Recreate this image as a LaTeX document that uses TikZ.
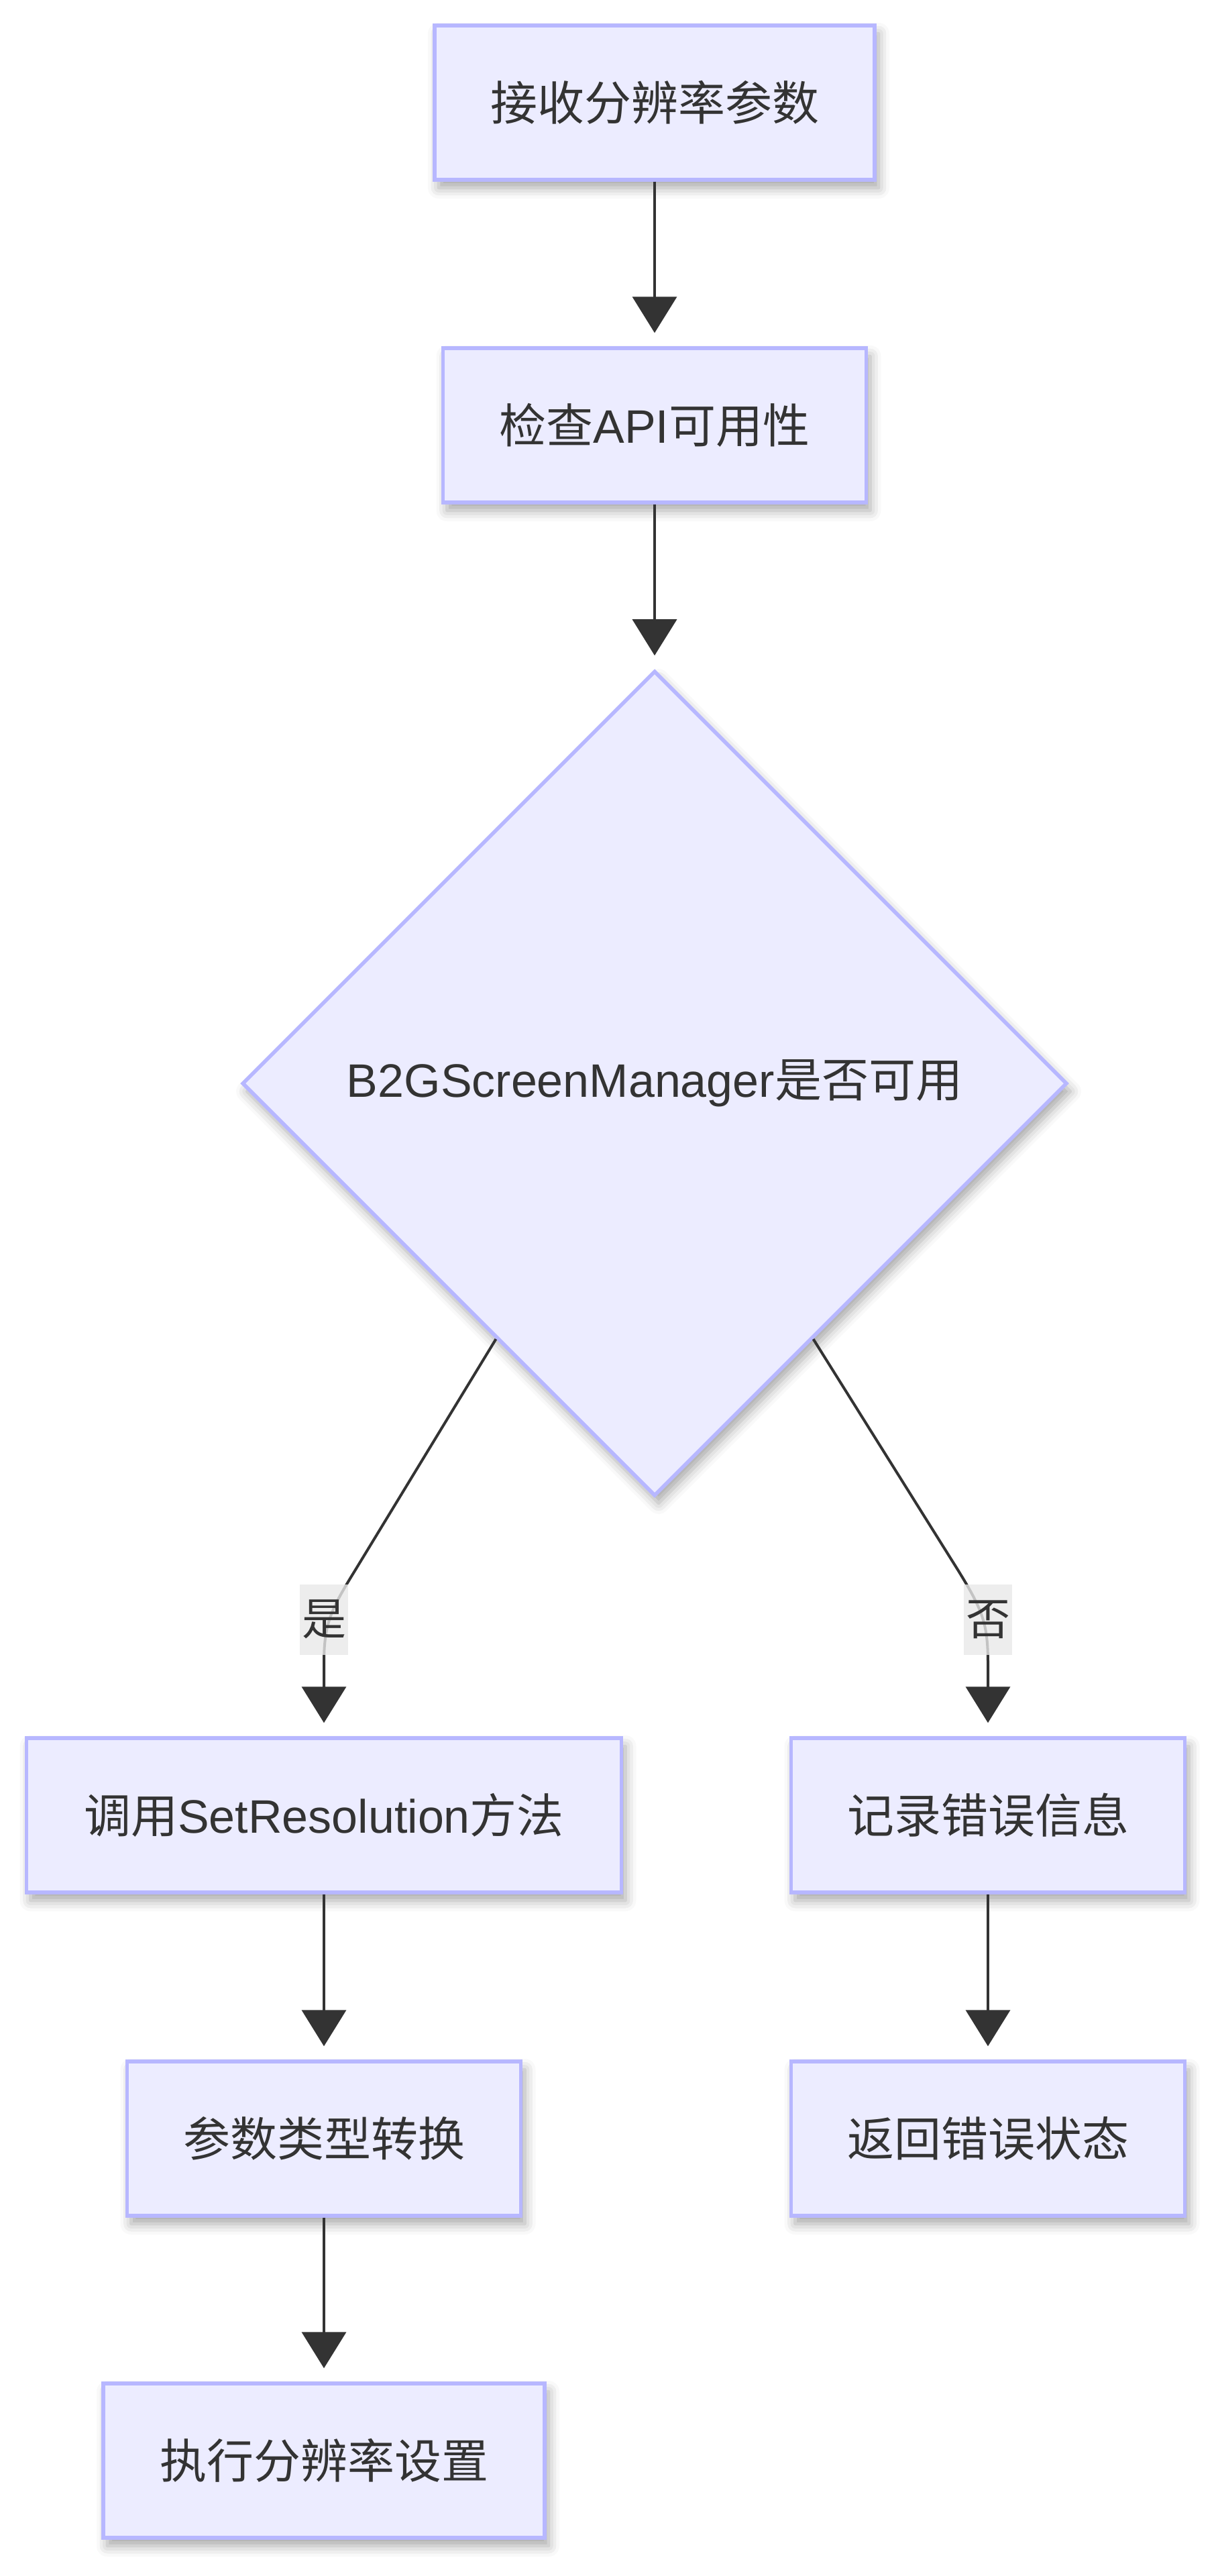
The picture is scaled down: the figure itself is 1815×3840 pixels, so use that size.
\documentclass[tikz,border=0pt]{standalone}
\usepackage{fontspec}
\setmainfont{Liberation Sans}
\newfontfamily\cjk{Noto Sans CJK SC}
\usetikzlibrary{shapes.geometric,arrows.meta,shadows.blur,calc}
\definecolor{nodefill}{HTML}{ECECFF}
\definecolor{nodeborder}{HTML}{B7B7FF}
\definecolor{edgecol}{HTML}{333333}
\definecolor{labelbg}{HTML}{E8E8E8}
\begin{document}
\begin{tikzpicture}[x=1pt,y=-1pt,
  shade/.style={blur shadow={shadow xshift=6pt, shadow yshift=-12pt, shadow blur radius=16pt, shadow opacity=35}},
  box/.style={draw=nodeborder, fill=nodefill, line width=5.5pt, minimum height=230pt, inner sep=0pt,
    text=edgecol, font=\fontsize{70}{84}\selectfont, shade},
  decision/.style={shape=diamond, aspect=1, draw=nodeborder, fill=nodefill, line width=5.5pt,
    minimum width=1230pt, minimum height=1230pt, inner sep=0pt, text=edgecol,
    font=\fontsize{70}{84}\selectfont, shade},
  edge/.style={draw=edgecol, line width=4pt, -{Triangle[length=54pt,width=66pt]}, shorten >=20pt},
  elabel/.style={fill=labelbg, fill opacity=0.8, text opacity=1, text=edgecol, inner xsep=3pt, inner ysep=0pt,
    minimum height=105pt, font=\fontsize{66}{80}\selectfont\cjk}
]
\useasboundingbox (0,0) rectangle (1815,3840);

\node[box, minimum width=656pt] (n1) at (976,153) {{\cjk 接收分辨率参数}};
\node[box, minimum width=631pt] (n2) at (976,634) {{\cjk 检查}API{\cjk 可用性}};
\node[decision] (d) at (976,1615) {B2GScreenManager{\cjk 是否可用}};
\node[box, minimum width=887pt] (n3) at (483,2706) {{\cjk 调用}SetResolution{\cjk 方法}};
\node[box, minimum width=587pt] (n4) at (1473,2706) {{\cjk 记录错误信息}};
\node[box, minimum width=587pt] (n5) at (483,3188) {{\cjk 参数类型转换}};
\node[box, minimum width=587pt] (n6) at (1473,3188) {{\cjk 返回错误状态}};
\node[box, minimum width=658pt] (n7) at (483,3668) {{\cjk 执行分辨率设置}};

\draw[edge] (n1) -- (n2);
\draw[edge] (n2) -- (d);
\draw[edge] ($(d.west)!0.617!(d.south)$) -- (530,2340) .. controls (493,2400) and (483,2420) .. (483,2480) -- (n3.north);
\draw[edge] ($(d.east)!0.617!(d.south)$) -- (1428,2340) .. controls (1465,2400) and (1473,2420) .. (1473,2480) -- (n4.north);
\draw[edge] (n3) -- (n5);
\draw[edge] (n5) -- (n7);
\draw[edge] (n4) -- (n6);

\node[elabel] (l1) at (483,2414) {是};
\node[elabel] (l2) at (1473,2414) {否};
\end{tikzpicture}
\end{document}
